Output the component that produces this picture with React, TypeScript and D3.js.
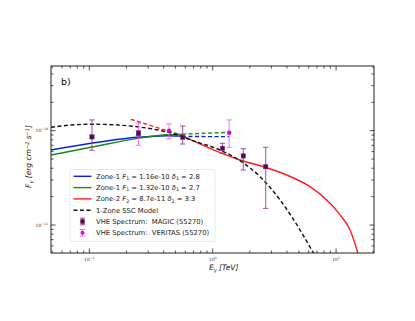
import React, { useRef, useEffect } from 'react';
import * as d3 from 'd3';

// curves: [E (TeV), F (erg cm^-2 s^-1)]
const zone1aSolid: [number, number][] = [[0.0489, 6.24e-11], [0.103, 7.35e-11], [0.246, 8.51e-11], [0.42, 8.85e-11], [0.564, 8.75e-11]];
const zone1aDash: [number, number][] = [[0.564, 8.68e-11], [1.356, 8.64e-11]];
const zone1bSolid: [number, number][] = [[0.0489, 5.52e-11], [0.103, 6.67e-11], [0.246, 8.3e-11], [0.42, 9.05e-11], [0.564, 9.2e-11]];
const zone1bDash: [number, number][] = [[0.564, 9.2e-11], [1.356, 9.6e-11]];
const zone2Dash: [number, number][] = [[0.217, 1.32e-10], [0.55, 9.0e-11]];
const zone2Solid: [number, number][] = [[0.55, 9.0e-11], [0.667, 8.0e-11], [1.146, 5.85e-11], [1.665, 4.89e-11], [2.655, 4.09e-11], [3.98, 3.39e-11], [6.15, 2.55e-11], [8.41, 1.84e-11], [10.77, 1.28e-11], [12.98, 8.85e-12], [15.17, 4.8e-12], [15.6, 4.2e-12]];
const sscModel: [number, number][] = [[0.0489, 1.087e-10], [0.071, 1.148e-10], [0.103, 1.17e-10], [0.17, 1.148e-10], [0.246, 1.1e-10], [0.358, 1.017e-10], [0.52, 9.0e-11], [0.667, 7.96e-11], [1.146, 6.24e-11], [1.665, 4.81e-11], [2.42, 3.25e-11], [3.52, 1.84e-11], [5.11, 8.85e-12], [6.35, 5.43e-12], [6.9, 4.5e-12]];

// spectra: energy, flux, low, high
const magicE = [0.105, 0.25, 0.571, 1.2, 1.77, 2.69];
const magicF = [8.6e-11, 9.4e-11, 8.5e-11, 6.5e-11, 5.4e-11, 4.15e-11];
const magicLo = [6.2e-11, 9.0e-11, 7.22e-11, 5.75e-11, 3.83e-11, 1.5e-11];
const magicHi = [1.3e-10, 1.0e-10, 1.12e-10, 7.35e-11, 6.44e-11, 6.67e-11];

const veritasE = [0.25, 0.443, 1.36];
const veritasF = [9.1e-11, 1.0e-10, 9.5e-11];
const veritasLo = [7.0e-11, 8.2e-11, 6.67e-11];
const veritasHi = [1.2e-10, 1.18e-10, 1.3e-10];

const xTicks = [0.1, 1, 10];
const xTickLabels = ['-1', '0', '1'];
const yTicks = [1e-11, 1e-10];
const yTickLabels = ['-11', '-10'];

const FONT = 'DejaVu Sans, sans-serif';

function App() {
  const ref = useRef<SVGSVGElement>(null);

  useEffect(() => {
    const margin = { top: 66, right: 41, bottom: 68, left: 51 };
    const W = 415, H = 321;
    const width = W - margin.left - margin.right;
    const height = H - margin.top - margin.bottom;

    const root = d3.select(ref.current);
    root.selectAll('*').remove();
    const svg = root.append('g').attr('transform', `translate(${margin.left},${margin.top})`);

    const x = d3.scaleLog().domain([0.0489, 20.3]).range([0, width]);
    const y = d3.scaleLog().domain([5.05e-12, 4.85e-10]).range([height, 0]);

    svg.append('clipPath').attr('id', 'plotclip')
      .append('rect').attr('width', width).attr('height', height);

    const plot = svg.append('g').attr('clip-path', 'url(#plotclip)');

    const line = d3.line<[number, number]>()
      .x(d => x(d[0]))
      .y(d => y(d[1]))
      .curve(d3.curveMonotoneX);

    const drawLine = (pts: [number, number][], color: string, dash?: string) => {
      plot.append('path')
        .attr('d', line(pts))
        .attr('fill', 'none')
        .attr('stroke', color)
        .attr('stroke-width', 1.4)
        .attr('stroke-dasharray', dash || null);
    };

    drawLine(zone1aSolid, '#0a1ee6');
    drawLine(zone1aDash, '#0a1ee6', '4,2.5');
    drawLine(zone1bSolid, '#178a17');
    drawLine(zone1bDash, '#178a17', '4,2.5');
    drawLine(zone2Dash, '#ff1a1a', '4,2.5');
    drawLine(zone2Solid, '#ff1a1a');
    drawLine(sscModel, '#111', '4,2.5');

    const errBars = (E: number[], F: number[], lo: number[], hi: number[], barColor: string, fill: string, square: boolean) => {
      E.forEach((e, i) => {
        const cx = x(e);
        plot.append('line').attr('x1', cx).attr('x2', cx).attr('y1', y(lo[i])).attr('y2', y(hi[i]))
          .attr('stroke', barColor).attr('stroke-width', 0.9);
        [lo[i], hi[i]].forEach(v => {
          plot.append('line').attr('x1', cx - 2.7).attr('x2', cx + 2.7).attr('y1', y(v)).attr('y2', y(v))
            .attr('stroke', barColor).attr('stroke-width', 0.9);
        });
        if (square) {
          plot.append('rect').attr('x', cx - 2.2).attr('y', y(F[i]) - 2.2).attr('width', 4.4).attr('height', 4.4)
            .attr('fill', fill).attr('stroke', '#8a2a8a').attr('stroke-width', 0.4);
        } else {
          plot.append('circle').attr('cx', cx).attr('cy', y(F[i])).attr('r', 2)
            .attr('fill', fill).attr('stroke', '#a000a0').attr('stroke-width', 0.4);
        }
      });
    };
    errBars(veritasE, veritasF, veritasLo, veritasHi, '#ff5cff', '#e000e0', false);
    errBars(magicE, magicF, magicLo, magicHi, '#9a3a9a', '#4a0c4a', true);

    // frame
    svg.append('rect').attr('width', width).attr('height', height)
      .attr('fill', 'none').attr('stroke', '#222').attr('stroke-width', 1);

    // ticks (inward, all sides)
    const xMinor: number[] = [];
    for (let dec = -2; dec <= 1; dec++) {
      for (let k = 2; k <= 9; k++) {
        const v = k * Math.pow(10, dec);
        if (v > x.domain()[0] && v < x.domain()[1]) xMinor.push(v);
      }
    }
    const yMinor: number[] = [];
    for (let dec = -12; dec <= -10; dec++) {
      for (let k = 2; k <= 9; k++) {
        const v = k * Math.pow(10, dec);
        if (v > y.domain()[0] && v < y.domain()[1]) yMinor.push(v);
      }
    }
    const tk = svg.append('g').attr('stroke', '#222').attr('stroke-width', 0.8);
    xTicks.forEach(v => {
      tk.append('line').attr('x1', x(v)).attr('x2', x(v)).attr('y1', height).attr('y2', height - 4.5);
      tk.append('line').attr('x1', x(v)).attr('x2', x(v)).attr('y1', 0).attr('y2', 4.5);
    });
    xMinor.forEach(v => {
      tk.append('line').attr('x1', x(v)).attr('x2', x(v)).attr('y1', height).attr('y2', height - 2.5);
      tk.append('line').attr('x1', x(v)).attr('x2', x(v)).attr('y1', 0).attr('y2', 2.5);
    });
    yTicks.forEach(v => {
      tk.append('line').attr('x1', 0).attr('x2', 4.5).attr('y1', y(v)).attr('y2', y(v));
      tk.append('line').attr('x1', width).attr('x2', width - 4.5).attr('y1', y(v)).attr('y2', y(v));
    });
    yMinor.forEach(v => {
      tk.append('line').attr('x1', 0).attr('x2', 2.5).attr('y1', y(v)).attr('y2', y(v));
      tk.append('line').attr('x1', width).attr('x2', width - 2.5).attr('y1', y(v)).attr('y2', y(v));
    });

    // tick labels
    xTicks.forEach((v, i) => {
      const t = svg.append('text').attr('x', x(v)).attr('y', height + 8).attr('text-anchor', 'middle')
        .attr('font-family', FONT).attr('font-size', 4.5).attr('fill', '#333');
      t.append('tspan').text('10');
      t.append('tspan').attr('dy', -2).attr('font-size', 3.2).text(xTickLabels[i].replace('-', '\u2212'));
    });
    yTicks.forEach((v, i) => {
      const t = svg.append('text').attr('x', -3).attr('y', y(v) + 1.5).attr('text-anchor', 'end')
        .attr('font-family', FONT).attr('font-size', 4.5).attr('fill', '#333');
      t.append('tspan').text('10');
      t.append('tspan').attr('dy', -2).attr('font-size', 3.2).text(yTickLabels[i].replace('-', '\u2212'));
    });

    // axis labels
    const xl = svg.append('text').attr('x', x(1) + 11).attr('y', height + 17).attr('text-anchor', 'middle')
      .attr('font-family', FONT).attr('font-size', 7.5).attr('fill', '#222');
    xl.append('tspan').attr('font-style', 'italic').text('E');
    xl.append('tspan').attr('dy', 1.5).attr('font-size', 5).attr('font-style', 'italic').text('\u03b3');
    xl.append('tspan').attr('dy', -1.5).attr('font-style', 'italic').text(' [TeV]');

    const yl = svg.append('text')
      .attr('transform', `translate(-20,${height / 2 - 3}) rotate(-90)`)
      .attr('text-anchor', 'middle')
      .attr('font-family', FONT).attr('font-size', 7.5).attr('fill', '#222').attr('font-style', 'italic');
    yl.append('tspan').text('F');
    yl.append('tspan').attr('dy', 1.5).attr('font-size', 5).text('\u03b3');
    yl.append('tspan').attr('dy', -1.5).text(' [erg cm');
    yl.append('tspan').attr('dy', -2.5).attr('font-size', 5).text('\u22122');
    yl.append('tspan').attr('dy', 2.5).text(' s');
    yl.append('tspan').attr('dy', -2.5).attr('font-size', 5).text('\u22121');
    yl.append('tspan').attr('dy', 2.5).text(']');

    svg.append('text').attr('x', 10).attr('y', 19).attr('font-family', FONT).attr('font-size', 9.5)
      .attr('fill', '#111').text('b)');

    // legend
    const lg = svg.append('g').attr('transform', `translate(${70 - margin.left},${169.5 - margin.top})`);
    lg.append('rect').attr('width', 145).attr('height', 72).attr('rx', 2)
      .attr('fill', 'white').attr('fill-opacity', 0.85).attr('stroke', '#ddd').attr('stroke-width', 0.6);
    const rowY = (i: number) => 6.8 + i * 11.3;
    const entries = [
      { color: '#0a1ee6', dash: null, parts: [['Zone-1 ', ''], ['F', 'i'], ['1', 's'], [' = 1.16e-10 ', ''], ['\u03b4', 'i'], ['1', 's'], [' = 2.8', '']] },
      { color: '#178a17', dash: null, parts: [['Zone-1 ', ''], ['F', 'i'], ['1', 's'], [' = 1.32e-10 ', ''], ['\u03b4', 'i'], ['1', 's'], [' = 2.7', '']] },
      { color: '#ff1a1a', dash: null, parts: [['Zone-2 ', ''], ['F', 'i'], ['2', 's'], [' = 8.7e-11 ', ''], ['\u03b4', 'i'], ['2', 's'], [' = 3.3', '']] },
      { color: '#111', dash: '4,2.5', parts: [['1-Zone SSC Model', '']] },
    ];
    entries.forEach((e, i) => {
      lg.append('line').attr('x1', 3.5).attr('x2', 21.5).attr('y1', rowY(i)).attr('y2', rowY(i))
        .attr('stroke', e.color).attr('stroke-width', 1.4).attr('stroke-dasharray', e.dash);
      const t = lg.append('text').attr('x', 26).attr('y', rowY(i) + 2.3)
        .attr('font-family', FONT).attr('font-size', 6.8).attr('fill', '#222');
      e.parts.forEach(([s, k], j) => {
        const sp = t.append('tspan').text(s);
        if (k === 'i') sp.attr('font-style', 'italic');
        const prev = j > 0 ? e.parts[j - 1][1] : '';
        if (k === 's') sp.attr('font-size', 4.7).attr('dy', 1.3);
        else if (prev === 's') sp.attr('dy', -1.3);
      });
    });
    const specs = [
      { label: 'VHE Spectrum:  MAGIC (55270)', bar: '#9a3a9a', fill: '#4a0c4a', square: true },
      { label: 'VHE Spectrum:  VERITAS (55270)', bar: '#ff5cff', fill: '#e000e0', square: false },
    ];
    specs.forEach((s, k) => {
      const cy = rowY(4 + k);
      const cx = 12.5;
      lg.append('line').attr('x1', cx).attr('x2', cx).attr('y1', cy - 3.3).attr('y2', cy + 3.3).attr('stroke', s.bar).attr('stroke-width', 0.9);
      [-3.3, 3.3].forEach(o => lg.append('line').attr('x1', cx - 2.7).attr('x2', cx + 2.7).attr('y1', cy + o).attr('y2', cy + o)
        .attr('stroke', s.bar).attr('stroke-width', 0.9));
      if (s.square) {
        lg.append('rect').attr('x', cx - 2.2).attr('y', cy - 2.2).attr('width', 4.4).attr('height', 4.4).attr('fill', s.fill);
      } else {
        lg.append('circle').attr('cx', cx).attr('cy', cy).attr('r', 2).attr('fill', s.fill);
      }
      lg.append('text').attr('x', 26).attr('y', cy + 2.3).attr('font-family', FONT).attr('font-size', 6.8)
        .attr('fill', '#222').style('white-space', 'pre').text(s.label);
    });
  }, []);

  return (
    <svg ref={ref} width="415" height="321" style={{ position: 'absolute', left: 0, top: 0, background: 'white' }} />
  );
}

export default App;
